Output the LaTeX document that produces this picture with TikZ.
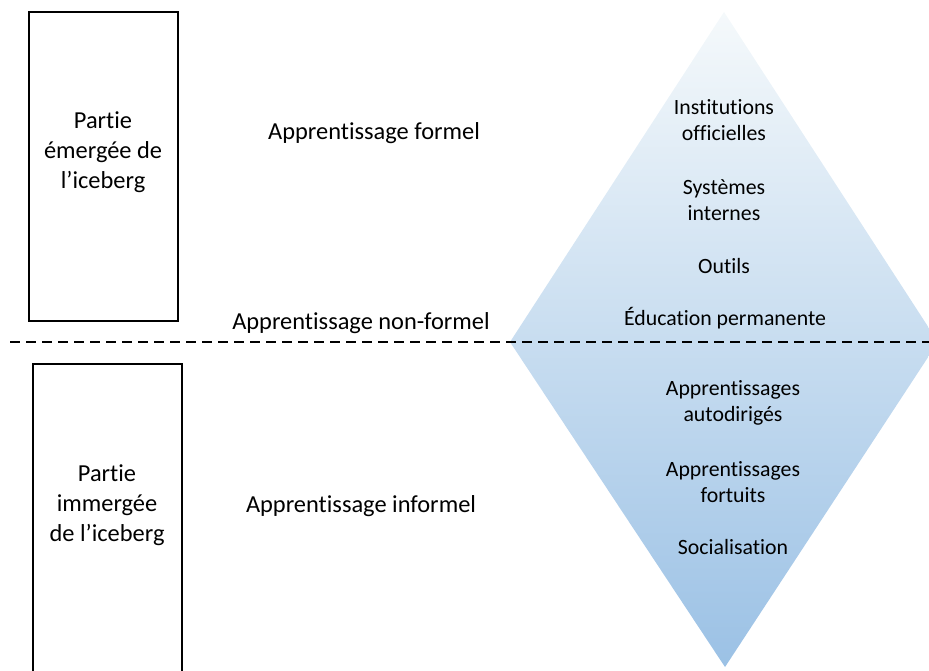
\documentclass[tikz,border=0pt]{standalone}
\usepackage{fontspec}
\setmainfont{Carlito}[Ligatures={NoCommon,NoRare,NoContextual}]
\definecolor{icetop}{RGB}{245,249,251}
\definecolor{icemid}{RGB}{190,215,237}
\definecolor{icebot}{RGB}{155,193,229}
\begin{document}
\begin{tikzpicture}[x=0.5pt, y=-0.5pt,
    label/.style={align=center, font=\fontsize{12.2}{15}\selectfont},
    layer/.style={align=center, font=\fontsize{10.9}{13}\selectfont},
    sealine/.style={line width=1pt, dash pattern=on 5pt off 3pt}]
            \useasboundingbox (0,0) rectangle (929,670);
            \clip (0,0) rectangle (929,670);

            % Iceberg
            \shade [top color=icetop, middle color=icemid, bottom color=icebot]
                (724,12) -- (938,342) -- (725,667) -- (510,342) -- cycle;

            % Boxes
            \draw [line width=0.7pt] (29,12) rectangle (178,321);
            \draw [line width=0.7pt] (33,364) rectangle (182,700);
            \node [label] (emergee) at (103,152) {Partie\\émergée de\\l’iceberg};
            \node [label] (immergee) at (107,505) {Partie\\immergée\\de l’iceberg};

            % Water line
            \coordinate (seaL) at (10,342);
            \coordinate (seaR) at (929,342);
            \draw [sealine] (seaL) -- (seaR);

            % Kinds of learning
            \node [label] (formel) at (374,133) {Apprentissage formel};
            \node [label] (nonformel) at (361,323) {Apprentissage non-formel};
            \node [label] (informel) at (361,506) {Apprentissage informel};

            % Layers
            \node [layer] (institutions) at (724,120) {Institutions\\officielles};
            \node [layer] (systemes) at (724,200) {Systèmes\\internes};
            \node [layer] (outils) at (724,266) {Outils};
            \node [layer] (education) at (725,318) {Éducation permanente};
            \node [layer] (autodiriges) at (733,403) {Apprentissages\\autodirigés};
            \node [layer] (fortuits) at (733,482) {Apprentissages\\fortuits};
            \node [layer] (socialisation) at (733,547) {Socialisation};
        \end{tikzpicture}
\end{document}
